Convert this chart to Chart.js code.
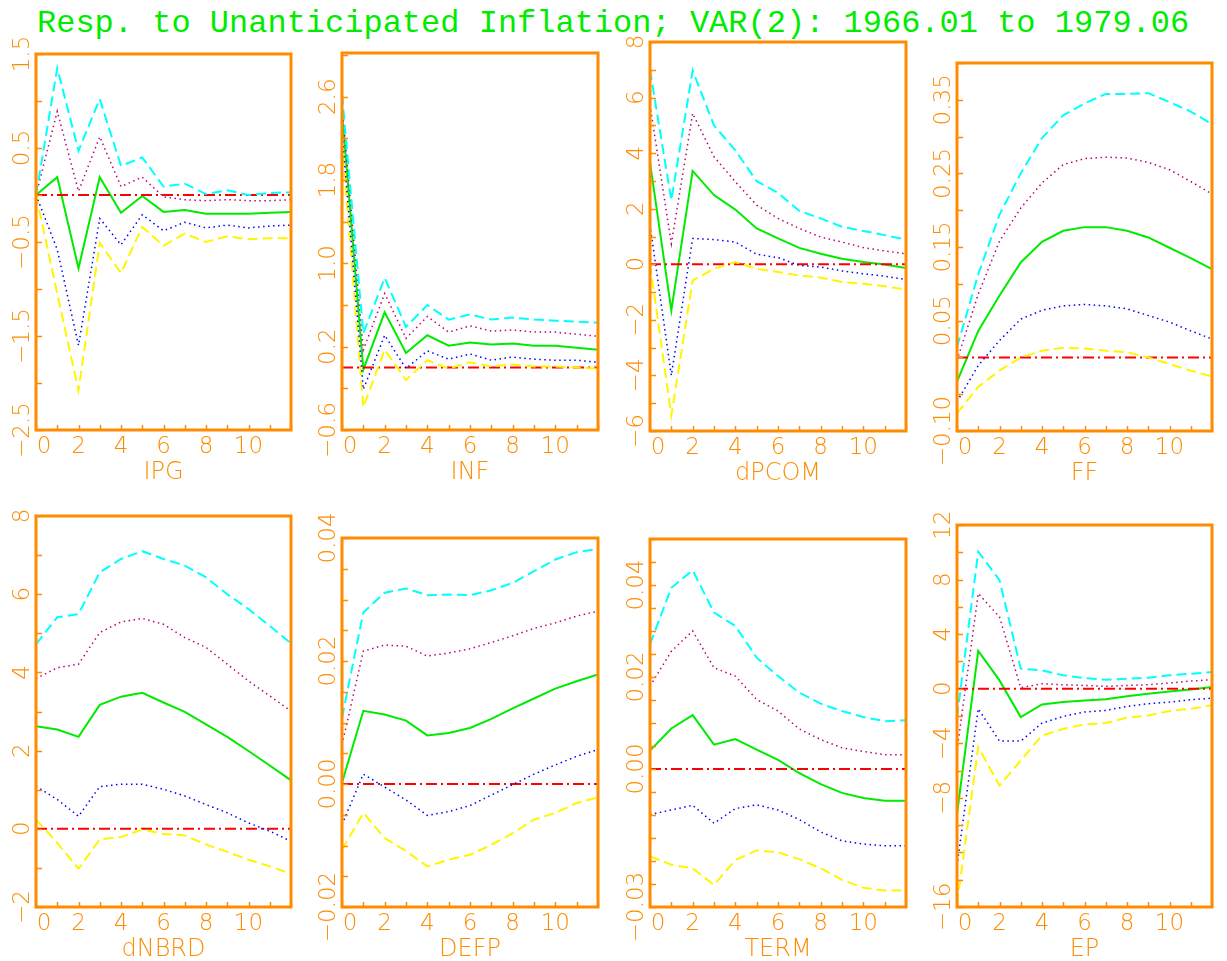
<!DOCTYPE html>
<html><head><meta charset="utf-8">
<script src="https://cdn.jsdelivr.net/npm/chart.js@4.4.1/dist/chart.umd.min.js"></script>
<style>
html,body{margin:0;padding:0;background:#fff;}
#wrap{position:relative;width:1227px;height:961px;overflow:hidden;background:#fff;}
#wrap canvas{position:absolute;left:0;top:0;}
#title{position:absolute;left:37px;top:4px;font:32px "Liberation Mono",monospace;color:rgb(0,235,0);white-space:pre;line-height:40px;}
</style></head><body>
<div id="wrap"><div id="title">Resp. to Unanticipated Inflation; VAR(2): 1966.01 to 1979.06</div></div>
<script>
// ---------- data ----------
const HORIZON = [0,1,2,3,4,5,6,7,8,9,10,11,12];
const X_TICK_LABELS = [0,2,4,6,8,10];
const ZERO = [0,0,0,0,0,0,0,0,0,0,0,0,0];

const IPG_UP95 = [0,1.35,0.47,1.02,0.31,0.40,0.09,0.12,0.01,0.05,0.00,0.02,0.03];
const IPG_UP68 = [0,0.89,0.04,0.62,0.09,0.19,-0.02,-0.05,-0.06,-0.05,-0.06,-0.06,-0.05];
const IPG_EST  = [0,0.19,-0.78,0.19,-0.19,-0.01,-0.18,-0.16,-0.20,-0.20,-0.20,-0.19,-0.18];
const IPG_LO68 = [0,-0.58,-1.60,-0.25,-0.53,-0.21,-0.38,-0.29,-0.35,-0.32,-0.35,-0.33,-0.32];
const IPG_LO95 = [0,-1.05,-2.08,-0.51,-0.83,-0.34,-0.54,-0.41,-0.50,-0.44,-0.47,-0.46,-0.46];
const IPG_YLABELS = [1.5,0.5,-0.5,-1.5,-2.5];

const INF_UP95 = [2.62,0.33,0.86,0.39,0.60,0.46,0.51,0.46,0.48,0.46,0.45,0.44,0.43];
const INF_UP68 = [2.52,0.17,0.71,0.28,0.49,0.34,0.40,0.35,0.36,0.34,0.34,0.32,0.30];
const INF_EST  = [2.46,-0.02,0.53,0.14,0.31,0.21,0.24,0.22,0.23,0.21,0.21,0.19,0.17];
const INF_LO68 = [2.27,-0.21,0.31,-0.01,0.16,0.08,0.13,0.07,0.10,0.08,0.07,0.07,0.05];
const INF_LO95 = [2.17,-0.38,0.17,-0.12,0.07,-0.01,0.05,0.01,0.03,0.01,0.01,0.00,-0.01];
const INF_YLABELS = [2.6,1.8,1.0,0.2,-0.6];

const DPCOM_UP95 = [6.99,2.31,6.97,5.0,4.1,2.99,2.57,1.92,1.65,1.35,1.2,1.05,0.89];
const DPCOM_UP68 = [5.73,0.74,5.43,3.87,2.97,2.13,1.65,1.29,0.98,0.80,0.60,0.48,0.38];
const DPCOM_EST  = [3.66,-1.66,3.36,2.49,1.97,1.29,0.93,0.59,0.38,0.20,0.08,-0.01,-0.13];
const DPCOM_LO68 = [1.41,-4.0,0.93,0.89,0.80,0.36,0.24,-0.04,-0.10,-0.24,-0.34,-0.43,-0.55];
const DPCOM_LO95 = [0.0,-5.44,-0.58,-0.16,0.08,-0.16,-0.28,-0.40,-0.48,-0.64,-0.70,-0.79,-0.91];
const DPCOM_YLABELS = [8,6,4,2,0,-2,-4,-6];

const FF_UP95 = [0.014,0.113,0.194,0.250,0.298,0.329,0.345,0.358,0.358,0.359,0.347,0.334,0.317];
const FF_UP68 = [-0.004,0.086,0.158,0.203,0.237,0.262,0.270,0.272,0.271,0.265,0.255,0.239,0.222];
const FF_EST  = [-0.033,0.036,0.084,0.129,0.157,0.172,0.177,0.177,0.172,0.163,0.149,0.135,0.120];
const FF_LO68 = [-0.060,-0.011,0.023,0.052,0.064,0.070,0.072,0.070,0.066,0.057,0.048,0.036,0.025];
const FF_LO95 = [-0.076,-0.040,-0.018,0.000,0.009,0.013,0.012,0.009,0.007,0.000,-0.009,-0.018,-0.026];
const FF_YLABELS = [0.35,0.25,0.15,0.05,-0.10];

const DNBRD_UP95 = [4.72,5.41,5.49,6.56,6.90,7.10,6.90,6.73,6.43,6.00,5.62,5.19,4.74];
const DNBRD_UP68 = [3.84,4.12,4.21,5.02,5.29,5.38,5.23,4.89,4.64,4.21,3.78,3.40,3.01];
const DNBRD_EST  = [2.62,2.54,2.35,3.17,3.38,3.48,3.23,2.99,2.67,2.35,1.99,1.62,1.24];
const DNBRD_LO68 = [1.09,0.75,0.32,1.08,1.14,1.14,1.01,0.84,0.62,0.41,0.15,-0.06,-0.32];
const DNBRD_LO95 = [0.24,-0.36,-1.02,-0.27,-0.21,-0.02,-0.13,-0.17,-0.40,-0.59,-0.79,-0.96,-1.15];
const DNBRD_YLABELS = [8,6,4,2,0,-2];

const DEFP_UP95 = [0.0108,0.0279,0.0311,0.0318,0.0307,0.0308,0.0307,0.0315,0.0327,0.0346,0.0365,0.0377,0.0382];
const DEFP_UP68 = [0.0064,0.0216,0.0226,0.0224,0.0208,0.0213,0.0220,0.0230,0.0241,0.0253,0.0262,0.0273,0.0281];
const DEFP_EST  = [0.0002,0.0119,0.0113,0.0103,0.0079,0.0083,0.0091,0.0106,0.0123,0.0139,0.0155,0.0167,0.0178];
const DEFP_LO68 = [-0.0066,0.0016,-0.0005,-0.0026,-0.0051,-0.0045,-0.0035,-0.0018,-0.0001,0.0016,0.0031,0.0045,0.0056];
const DEFP_LO95 = [-0.0107,-0.0047,-0.0088,-0.0109,-0.0134,-0.0123,-0.0115,-0.0099,-0.0080,-0.0058,-0.0047,-0.0031,-0.0022];
const DEFP_YLABELS = [0.04,0.02,0.00,-0.02];

const TERM_UP95 = [0.0271,0.0394,0.0432,0.0340,0.0311,0.0242,0.0202,0.0166,0.0142,0.0126,0.0113,0.0104,0.0106];
const TERM_UP68 = [0.0180,0.0256,0.0300,0.0220,0.0202,0.0151,0.0126,0.0087,0.0064,0.0046,0.0038,0.0031,0.0031];
const TERM_EST  = [0.0040,0.0088,0.0117,0.0053,0.0065,0.0042,0.0020,-0.0009,-0.0033,-0.0052,-0.0063,-0.0069,-0.0069];
const TERM_LO68 = [-0.0099,-0.0089,-0.0079,-0.0118,-0.0086,-0.0078,-0.0089,-0.0110,-0.0137,-0.0156,-0.0163,-0.0167,-0.0167];
const TERM_LO95 = [-0.0190,-0.0208,-0.0216,-0.0252,-0.0198,-0.0177,-0.0181,-0.0196,-0.0216,-0.0241,-0.0258,-0.0264,-0.0264];
const TERM_YLABELS = [0.04,0.02,0.00,-0.03];

const EP_UP95 = [-2.08,10.04,7.96,1.47,1.35,0.98,0.78,0.66,0.73,0.81,0.98,1.10,1.22];
const EP_UP68 = [-4.53,6.98,5.26,0.07,0.37,0.29,0.24,0.17,0.24,0.29,0.42,0.56,0.66];
const EP_EST  = [-9.18,2.77,0.61,-2.08,-1.15,-0.98,-0.86,-0.78,-0.56,-0.37,-0.20,-0.05,0.12];
const EP_LO68 = [-12.98,-1.47,-3.84,-3.84,-2.52,-2.03,-1.71,-1.59,-1.30,-1.10,-0.98,-0.81,-0.69];
const EP_LO95 = [-15.79,-4.28,-7.10,-5.26,-3.43,-2.94,-2.62,-2.52,-2.13,-1.96,-1.64,-1.47,-1.22];
const EP_YLABELS = [12,8,4,0,-4,-8,-16];

// ---------- layout / style ----------
const ORANGE = 'rgb(255,140,0)';
const CYAN = 'rgb(0,255,255)';
const MAGENTA = 'rgb(190,0,125)';
const GREEN = 'rgb(0,235,0)';
const BLUE = 'rgb(0,0,255)';
const YELLOW = 'rgb(255,245,0)';
const RED = 'rgb(255,0,0)';
const W = 1227, H = 961;
const TICK_FONT = '200 23px "DejaVu Sans"';
const NAME_FONT = '200 24px "DejaVu Sans"';

const PANELS = [
  {name:'IPG',   box:[36,291,54,430],  ymin:-2.5, ymax:1.5,  step:0.5,   dec:1, s:[IPG_UP95,IPG_UP68,IPG_EST,IPG_LO68,IPG_LO95], yl:IPG_YLABELS},
  {name:'INF',   box:[342,598,53,430], ymin:-0.6, ymax:3.02, step:0.4,   dec:1, s:[INF_UP95,INF_UP68,INF_EST,INF_LO68,INF_LO95], yl:INF_YLABELS},
  {name:'dPCOM', box:[650,906,42,431], ymin:-6,   ymax:8,    step:1,     dec:0, s:[DPCOM_UP95,DPCOM_UP68,DPCOM_EST,DPCOM_LO68,DPCOM_LO95], yl:DPCOM_YLABELS},
  {name:'FF',    box:[957,1212,63,431],ymin:-0.10,ymax:0.40, step:0.05,  dec:2, s:[FF_UP95,FF_UP68,FF_EST,FF_LO68,FF_LO95], yl:FF_YLABELS},
  {name:'dNBRD', box:[36,291,516,907], ymin:-2,   ymax:8,    step:1,     dec:0, s:[DNBRD_UP95,DNBRD_UP68,DNBRD_EST,DNBRD_LO68,DNBRD_LO95], yl:DNBRD_YLABELS},
  {name:'DEFP',  box:[342,598,538,907],ymin:-0.02,ymax:0.04, step:0.005, dec:2, s:[DEFP_UP95,DEFP_UP68,DEFP_EST,DEFP_LO68,DEFP_LO95], yl:DEFP_YLABELS},
  {name:'TERM',  box:[650,906,539,907],ymin:-0.03,ymax:0.05, step:0.005, dec:2, s:[TERM_UP95,TERM_UP68,TERM_EST,TERM_LO68,TERM_LO95], yl:TERM_YLABELS},
  {name:'EP',    box:[957,1212,525,907],ymin:-16, ymax:12,   step:2,     dec:0, s:[EP_UP95,EP_UP68,EP_EST,EP_LO68,EP_LO95], yl:EP_YLABELS}
];

function pts(arr){ return HORIZON.map((h,i)=>({x:h, y:arr[i]})); }
function fmt(v,dec){ const s = v.toFixed(dec); return s.replace('-', '\u2212'); }

function framePlugin(p){
  return {
    id:'idlFrame',
    afterDraw(chart){
      const ctx = chart.ctx, xs = chart.scales.x, ys = chart.scales.y;
      const a = chart.chartArea;
      ctx.save();
      // minor/major y ticks (inward)
      ctx.strokeStyle = ORANGE; ctx.lineWidth = 1.5;
      const n = Math.round((p.ymax - p.ymin)/p.step);
      for(let k=0;k<=n;k++){
        const v = p.ymin + k*p.step;
        if(v > p.ymax + 1e-9) break;
        const y = Math.round(ys.getPixelForValue(v))+0.5;
        ctx.beginPath(); ctx.moveTo(a.left, y); ctx.lineTo(a.left+6, y); ctx.stroke();
      }
      for(const h of HORIZON){
        const x = Math.round(xs.getPixelForValue(h))+0.5;
        ctx.beginPath(); ctx.moveTo(x, a.bottom); ctx.lineTo(x, a.bottom-5); ctx.stroke();
      }
      // frame
      ctx.lineWidth = 3; ctx.strokeStyle = ORANGE;
      ctx.strokeRect(a.left, a.top, a.right-a.left, a.bottom-a.top);
      // y labels rotated
      ctx.fillStyle = ORANGE; ctx.font = TICK_FONT;
      ctx.textAlign = 'center'; ctx.textBaseline = 'middle';
      for(const v of p.yl){
        const y = ys.getPixelForValue(v);
        ctx.save(); ctx.translate(a.left-12.5, y); ctx.rotate(-Math.PI/2);
        ctx.fillText(fmt(v,p.dec), 0, 0); ctx.restore();
      }
      // x labels
      ctx.textBaseline = 'alphabetic';
      for(const v of X_TICK_LABELS){
        let x = xs.getPixelForValue(v);
        if(v === 0) x += 8;
        ctx.fillText(String(v), x, a.bottom+23);
      }
      // axis name
      ctx.font = NAME_FONT;
      ctx.fillText(p.name, (a.left+a.right)/2, a.bottom+49);
      ctx.restore();
    }
  };
}

const wrap = document.getElementById('wrap');
for(const p of PANELS){
  const cv = document.createElement('canvas');
  cv.width = W; cv.height = H; cv.style.width = W+'px'; cv.style.height = H+'px';
  wrap.appendChild(cv);
  const [l,r,t,b] = p.box;
  const ds = [
    {data:pts(p.s[0]), borderColor:CYAN,    borderWidth:2,   borderDash:[10,5]},
    {data:pts(p.s[1]), borderColor:MAGENTA, borderWidth:1.5, borderDash:[1.5,3.5]},
    {data:pts(p.s[3]), borderColor:BLUE,    borderWidth:1.5, borderDash:[1.5,3.5]},
    {data:pts(p.s[4]), borderColor:YELLOW,  borderWidth:2,   borderDash:[10,5]},
    {data:pts(ZERO),   borderColor:RED,     borderWidth:2,   borderDash:[11,4,2,4]},
    {data:pts(p.s[2]), borderColor:GREEN,   borderWidth:2}
  ];
  new Chart(cv, {
    type:'line',
    data:{datasets:ds},
    options:{
      responsive:false, animation:false, devicePixelRatio:1, events:[],
      layout:{padding:{left:l, right:W-r, top:t, bottom:H-b}},
      elements:{point:{radius:0}, line:{tension:0, fill:false}},
      scales:{
        x:{type:'linear', min:0, max:12, display:false},
        y:{type:'linear', min:p.ymin, max:p.ymax, display:false}
      },
      plugins:{legend:{display:false}, tooltip:{enabled:false}, title:{display:false}}
    },
    plugins:[framePlugin(p)]
  });
}
</script>
</body></html>
